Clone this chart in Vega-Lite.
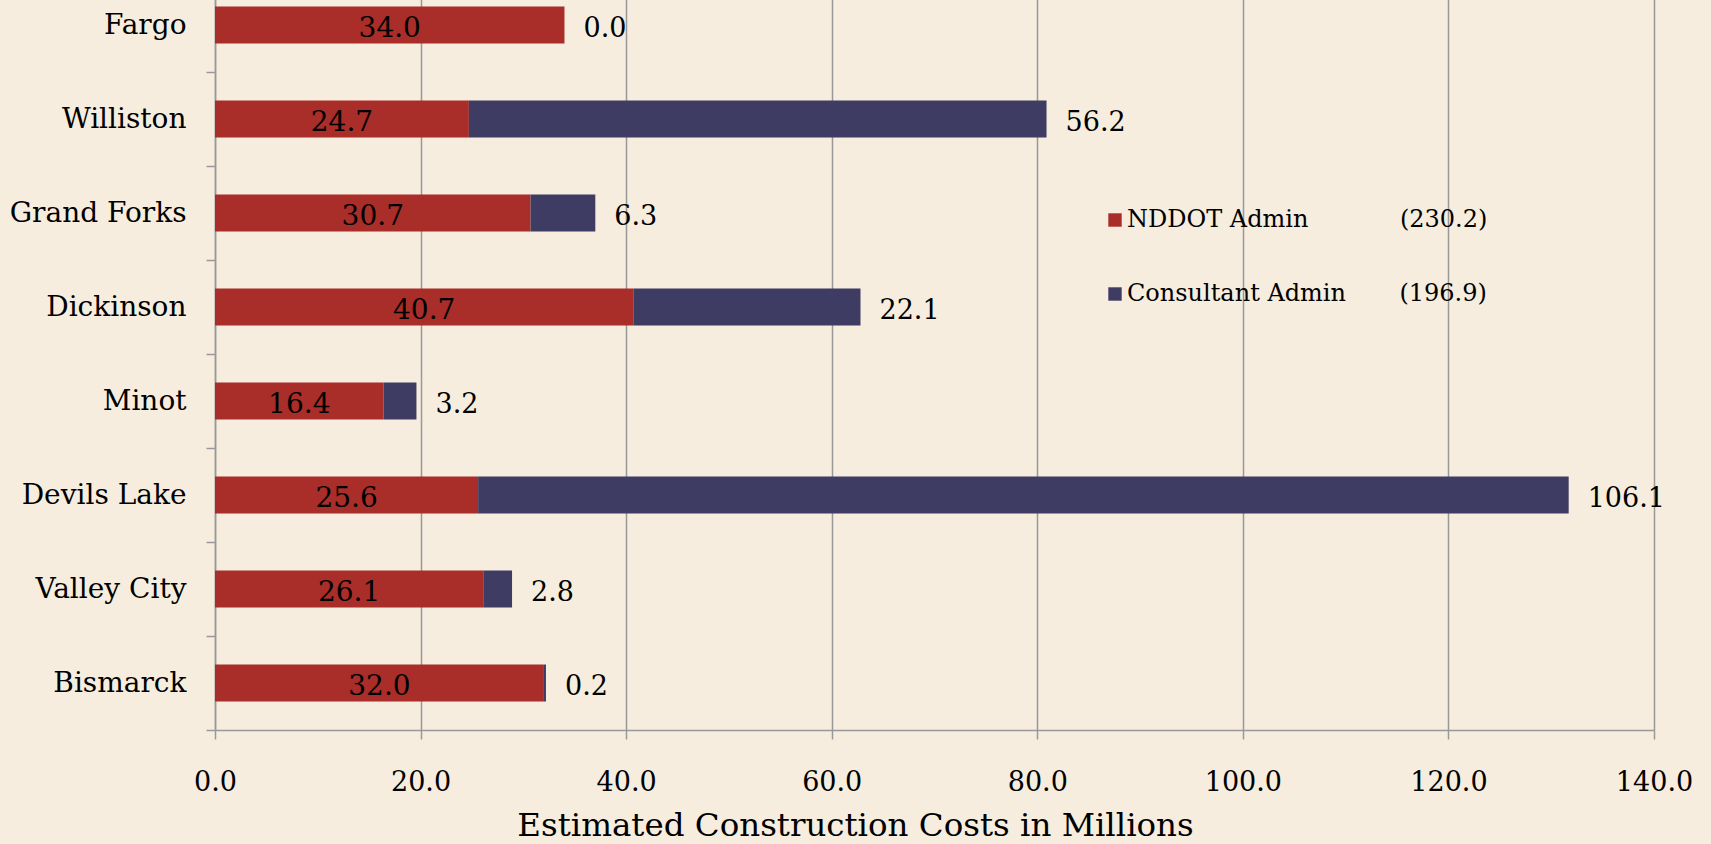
{
  "$schema": "https://vega.github.io/schema/vega-lite/v6.json",
  "width": 1439,
  "height": 752,
  "autosize": {"type": "none"},
  "padding": {"left": 215, "top": -22, "right": 57, "bottom": 114},
  "background": "#F6EDDF",
  "config": {
    "view": {"stroke": null},
    "font": "DejaVu Serif",
    "axisX": {
      "grid": true, "gridColor": "#999999", "gridWidth": 1.5,
      "domainColor": "#999999", "domainWidth": 1.5,
      "tickColor": "#999999", "tickWidth": 1.5, "tickSize": 9,
      "labelFontSize": 27, "labelColor": "#000000", "labelPadding": 30, "labelFont": "DejaVu Serif",
      "labelFlush": false, "labelOverlap": false,
      "titleFontSize": 32.5, "titleFontWeight": "normal", "titleColor": "#000000", "titlePadding": 14, "titleFont": "DejaVu Serif",
      "titleX": 640, "titleAlign": "center", "titleAnchor": "start"
    },
    "axisY": {
      "grid": false, "tickBand": "extent",
      "domainColor": "#999999", "domainWidth": 1.5,
      "tickColor": "#999999", "tickWidth": 1.5, "tickSize": 9,
      "labelFontSize": 28, "labelColor": "#000000", "labelPadding": 20, "labelFont": "DejaVu Serif"
    },
    "legend": {
      "labelFont": "DejaVu Serif", "labelFontSize": 24, "labelColor": "#000000"
    }
  },
  "data": {
    "values": [
      {"city": "Fargo", "admin": "NDDOT Admin", "cost": 34.0},
      {"city": "Fargo", "admin": "Consultant Admin", "cost": 0.0},
      {"city": "Williston", "admin": "NDDOT Admin", "cost": 24.7},
      {"city": "Williston", "admin": "Consultant Admin", "cost": 56.2},
      {"city": "Grand Forks", "admin": "NDDOT Admin", "cost": 30.7},
      {"city": "Grand Forks", "admin": "Consultant Admin", "cost": 6.3},
      {"city": "Dickinson", "admin": "NDDOT Admin", "cost": 40.7},
      {"city": "Dickinson", "admin": "Consultant Admin", "cost": 22.1},
      {"city": "Minot", "admin": "NDDOT Admin", "cost": 16.4},
      {"city": "Minot", "admin": "Consultant Admin", "cost": 3.2},
      {"city": "Devils Lake", "admin": "NDDOT Admin", "cost": 25.6},
      {"city": "Devils Lake", "admin": "Consultant Admin", "cost": 106.1},
      {"city": "Valley City", "admin": "NDDOT Admin", "cost": 26.1},
      {"city": "Valley City", "admin": "Consultant Admin", "cost": 2.8},
      {"city": "Bismarck", "admin": "NDDOT Admin", "cost": 32.0},
      {"city": "Bismarck", "admin": "Consultant Admin", "cost": 0.2}
    ]
  },
  "encoding": {
    "y": {
      "field": "city", "type": "nominal", "title": null,
      "sort": ["Fargo", "Williston", "Grand Forks", "Dickinson", "Minot", "Devils Lake", "Valley City", "Bismarck"],
      "scale": {"paddingInner": 0, "paddingOuter": 0}
    }
  },
  "layer": [
    {
      "mark": {"type": "bar", "size": 37},
      "encoding": {
        "x": {
          "field": "cost", "type": "quantitative", "stack": "zero",
          "title": "Estimated Construction Costs in Millions",
          "scale": {"domain": [0, 140], "nice": false},
          "axis": {"values": [0, 20, 40, 60, 80, 100, 120, 140], "format": ".1f"}
        },
        "order": {"field": "admin", "sort": "descending"},
        "color": {
          "field": "admin", "type": "nominal",
          "sort": ["NDDOT Admin", "Consultant Admin"],
          "scale": {"domain": ["NDDOT Admin", "Consultant Admin"], "range": ["#A92D28", "#3F3C63"]},
          "legend": {
            "title": null, "orient": "none", "legendX": 888, "legendY": 230,
            "symbolType": "square", "symbolSize": 180, "symbolStrokeWidth": 0,
            "rowPadding": 50, "labelOffset": 0, "labelLimit": 0, "padding": 0,
            "labelExpr": "datum.label == 'NDDOT Admin' ? 'NDDOT Admin\u00a0\u00a0\u00a0\u00a0\u00a0\u00a0\u00a0\u00a0\u00a0\u00a0\u00a0\u00a0(230.2)' : 'Consultant Admin\u00a0\u00a0\u00a0\u00a0\u00a0\u00a0\u00a0(196.9)'"
          }
        }
      }
    },
    {
      "transform": [
        {"filter": "datum.admin == 'NDDOT Admin'"},
        {"calculate": "datum.cost / 2", "as": "mid"}
      ],
      "mark": {"type": "text", "fontSize": 28, "color": "#000000", "align": "center", "baseline": "middle", "dy": 4},
      "encoding": {
        "x": {"field": "mid", "type": "quantitative", "title": "Estimated Construction Costs in Millions",
              "axis": {"values": [0, 20, 40, 60, 80, 100, 120, 140], "format": ".1f"}},
        "text": {"field": "cost", "type": "quantitative", "format": ".1f"}
      }
    },
    {
      "transform": [
        {"joinaggregate": [{"op": "sum", "field": "cost", "as": "total"}], "groupby": ["city"]},
        {"filter": "datum.admin == 'Consultant Admin'"}
      ],
      "mark": {"type": "text", "fontSize": 27, "color": "#000000", "align": "left", "baseline": "middle", "dx": 19, "dy": 4},
      "encoding": {
        "x": {"field": "total", "type": "quantitative", "title": "Estimated Construction Costs in Millions",
              "axis": {"values": [0, 20, 40, 60, 80, 100, 120, 140], "format": ".1f"}},
        "text": {"field": "cost", "type": "quantitative", "format": ".1f"}
      }
    }
  ]
}
